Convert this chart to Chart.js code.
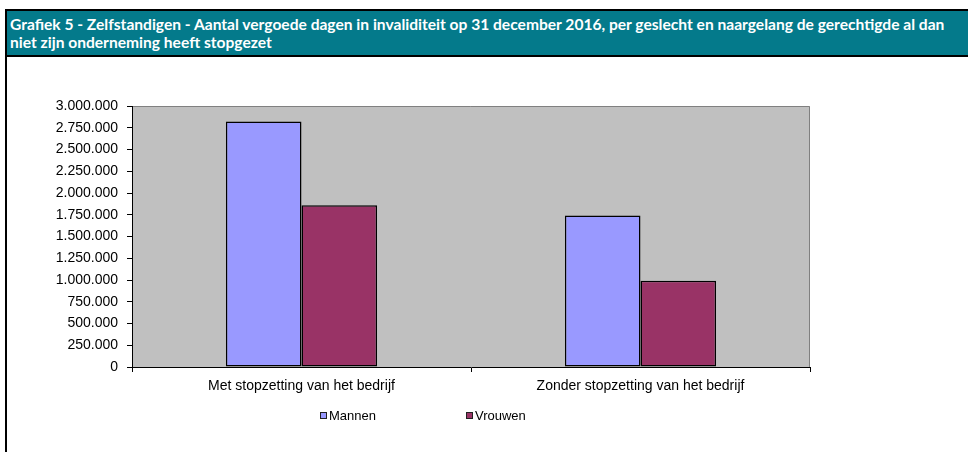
<!DOCTYPE html>
<html>
<head>
<meta charset="utf-8">
<script src="https://cdn.jsdelivr.net/npm/chart.js@4.4.1/dist/chart.umd.min.js"></script>
<style>
html,body{margin:0;padding:0;background:#fff;width:968px;height:452px;overflow:hidden;}
#wrap{position:relative;width:968px;height:452px;}
canvas{position:absolute;left:0;top:0;}
#frame{position:absolute;left:5px;top:9px;width:2px;height:443px;background:#000;}
#hdr{position:absolute;left:5px;top:9px;width:963px;height:48px;box-sizing:border-box;background:#047a8b;
  border-top:2px solid #000;border-bottom:2px solid #000;border-left:2px solid #000;color:#fff;
  font-family:Lato,'Open Sans',sans-serif;font-weight:bold;font-size:14px;line-height:17.5px;padding:5px 0 0 3px;}
#hdr span{white-space:nowrap;}
.lg{position:absolute;top:408px;display:flex;align-items:center;font-family:'Liberation Sans',Arial,sans-serif;font-size:13px;color:#000;}
.lg i{display:inline-block;width:5px;height:5px;border:1px solid #222;margin-right:2px;}
</style>
</head>
<body>
<div id="wrap">
  <canvas id="c" width="968" height="452"></canvas>
  <div id="frame"></div>
  <div id="hdr"><span id="l1"></span><br><span id="l2"></span></div>
</div>
<script>
const titleLines = [
  'Grafiek 5 - Zelfstandigen - Aantal vergoede dagen in invaliditeit op 31 december 2016, per geslecht en naargelang de gerechtigde al dan',
  'niet zijn onderneming heeft stopgezet'
];
const categories = ['Met stopzetting van het bedrijf', 'Zonder stopzetting van het bedrijf'];
const seriesNames = ['Mannen', 'Vrouwen'];
const mannen = [2823000, 1742000];
const vrouwen = [1858000, 992000];
const seriesColors = ['#9999FF', '#993366'];
const yMin = 0, yMax = 3000000, yStep = 250000;

document.getElementById('l1').textContent = titleLines[0];
document.getElementById('l2').textContent = titleLines[1];
(function fitTitle(){
  const s = document.getElementById('l1');
  const w = s.getBoundingClientRect().width;
  if (w > 0) document.getElementById('hdr').style.fontSize = (14 * 935 / w).toFixed(2) + 'px';
})();

function fmt(v){ return String(v).replace(/\B(?=(\d{3})+(?!\d))/g, '.'); }

const plotBg = {
  id: 'plotBg',
  beforeDraw(chart){
    const {ctx, chartArea:a} = chart;
    ctx.save();
    ctx.fillStyle = '#C0C0C0';
    ctx.fillRect(a.left, a.top, a.right - a.left, a.bottom - a.top);
    ctx.strokeStyle = '#808080';
    ctx.lineWidth = 1;
    ctx.beginPath();
    ctx.moveTo(a.left, a.top + 0.5);
    ctx.lineTo(a.right - 0.5, a.top + 0.5);
    ctx.lineTo(a.right - 0.5, a.bottom);
    ctx.stroke();
    ctx.restore();
  }
};

const datasets = [mannen, vrouwen].map((d, i) => ({
  label: seriesNames[i],
  data: d,
  backgroundColor: seriesColors[i],
  borderColor: '#000',
  borderWidth: 1.5,
  borderSkipped: false,
  categoryPercentage: 0.446,
  barPercentage: 1.0
}));

const font = {family: "'Liberation Sans', Arial, sans-serif", size: 14};

new Chart(document.getElementById('c'), {
  type: 'bar',
  data: {labels: categories, datasets},
  options: {
    responsive: false,
    animation: false,
    devicePixelRatio: 1,
    layout: {padding: {left: 38, right: 158, top: 106, bottom: 40}},
    plugins: {legend: {display: false}, tooltip: {enabled: false}, title: {display: false}},
    scales: {
      x: {
        offset: true,
        grid: {display: true, drawOnChartArea: false, drawTicks: true, tickLength: 5, color: '#000', offset: true},
        border: {display: true, color: '#000', width: 1},
        ticks: {color: '#000', font, padding: 6, maxRotation: 0},
        afterFit(scale){ scale.height = 45; }
      },
      y: {
        min: yMin, max: yMax,
        grid: {display: true, drawOnChartArea: false, drawTicks: true, tickLength: 5, color: '#000'},
        border: {display: true, color: '#000', width: 1},
        ticks: {stepSize: yStep, color: '#000', font, padding: 9, callback: v => fmt(v)},
        afterFit(scale){ scale.width = 94; }
      }
    }
  },
  plugins: [plotBg]
});

const wrap = document.getElementById('wrap');
seriesNames.forEach((n, i) => {
  const d = document.createElement('div');
  d.className = 'lg';
  d.style.left = (320 + i * 146) + 'px';
  const b = document.createElement('i');
  b.style.background = seriesColors[i];
  d.appendChild(b);
  d.appendChild(document.createTextNode(n));
  wrap.appendChild(d);
});
</script>
</body>
</html>
